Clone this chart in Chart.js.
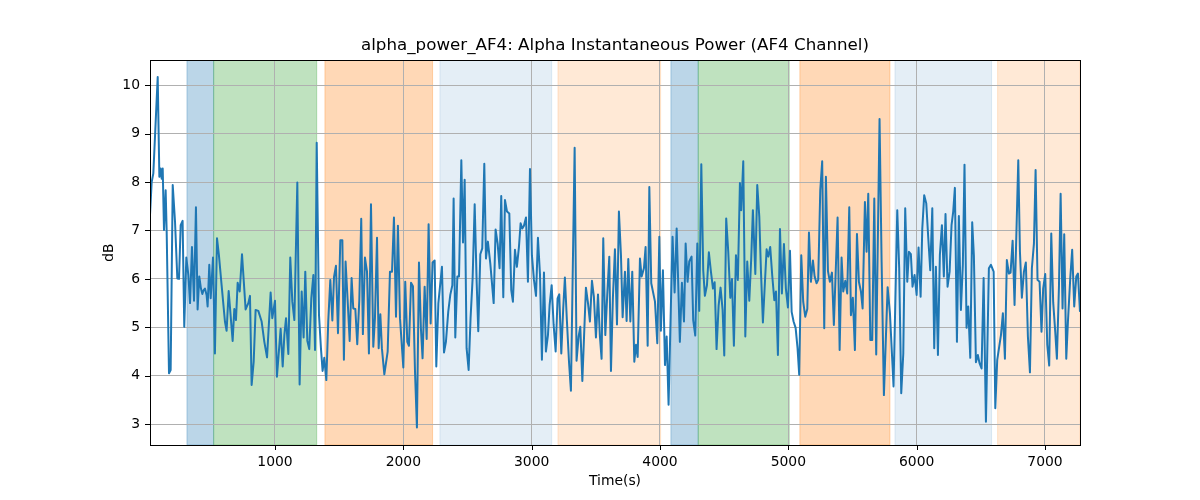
<!DOCTYPE html>
<html>
<head>
<meta charset="utf-8">
<script src="https://cdn.jsdelivr.net/npm/chart.js@4"></script>
<style>
  html, body { margin: 0; padding: 0; background: #fff; }
  #wrap { width: 1200px; height: 500px; }
</style>
</head>
<body>
<div id="wrap"><canvas id="powerChart" width="1200" height="500"></canvas></div>
<script>
// time (s) and alpha power (dB)
const times = [
  26, 39, 52, 86, 99, 109, 117, 125, 135, 148, 156, 174, 187, 203, 221, 239, 252, 265, 280, 293,
  309, 325, 338, 353, 369, 384, 397, 410, 423, 434, 444, 454, 467, 475, 488, 499, 517, 532, 548, 563,
  584, 610, 623, 639, 670, 683, 696, 709, 725, 743, 771, 792, 805, 818, 834, 849, 870, 896, 917, 938,
  966, 979, 1000, 1015, 1044, 1060, 1073, 1086, 1104, 1119, 1135, 1151, 1174, 1192, 1208, 1223, 1236, 1252, 1267, 1283,
  1299, 1312, 1325, 1343, 1358, 1371, 1384, 1400, 1415, 1431, 1447, 1460, 1475, 1491, 1509, 1525, 1537, 1550, 1566, 1582,
  1597, 1610, 1626, 1641, 1657, 1672, 1685, 1701, 1717, 1732, 1748, 1766, 1779, 1795, 1808, 1821, 1833, 1852,
  1878, 1896, 1912, 1927, 1943, 1958, 1974, 2000, 2015, 2031, 2044, 2060, 2075, 2091, 2106, 2122, 2137, 2150, 2166, 2182,
  2197, 2213, 2228, 2244, 2257, 2273, 2301, 2317, 2332, 2350, 2366, 2382, 2392, 2405, 2421, 2434, 2452, 2465, 2478, 2493,
  2509, 2524, 2540, 2556, 2571, 2584, 2600, 2615, 2631, 2644, 2659, 2678, 2704, 2719, 2735, 2750, 2763, 2779,
  2792, 2808, 2826, 2841, 2854, 2870, 2885, 2901, 2914, 2927, 2940, 2956, 2971, 2987, 3002, 3018, 3034, 3049, 3065, 3080,
  3096, 3111, 3127, 3140, 3156, 3171, 3187, 3202, 3215, 3231, 3246, 3259, 3275, 3291, 3306, 3335, 3350, 3366, 3379, 3395,
  3423, 3439, 3454, 3470, 3485, 3501, 3517, 3532, 3545, 3558, 3574, 3589, 3605, 3618, 3633, 3649, 3665, 3680, 3696, 3709,
  3727, 3740, 3753, 3769, 3784, 3800, 3813, 3826, 3844, 3857, 3875, 3888, 3904, 3917, 3932, 3961, 3979, 3995, 4007, 4023,
  4039, 4052, 4067, 4083, 4098, 4114, 4130, 4155, 4171, 4187, 4200, 4215, 4228, 4246, 4259, 4275, 4291, 4306, 4322, 4337,
  4350, 4366, 4381, 4397, 4413, 4426, 4441, 4457, 4472, 4488, 4501, 4516, 4532, 4548, 4561, 4576, 4592, 4607, 4623, 4633,
  4649, 4665, 4680, 4696,
  4711, 4724, 4743, 4758, 4774, 4787, 4802, 4818, 4831, 4844, 4859, 4875, 4891, 4904, 4919, 4935, 4950, 4966, 4981, 4997,
  5013, 5026, 5041, 5057, 5072, 5085, 5101, 5116, 5132, 5148, 5161, 5176, 5192, 5205, 5220, 5233, 5249, 5264, 5280, 5293,
  5309, 5324, 5340, 5355, 5384, 5400, 5415, 5428, 5444, 5459, 5475, 5488, 5503, 5519, 5535, 5550, 5566, 5579,
  5597, 5610, 5623, 5639, 5654, 5670, 5685, 5711, 5727, 5745, 5774, 5792, 5820, 5849, 5864, 5880, 5896, 5911, 5927, 5940,
  5955, 5968, 5984, 6000, 6015, 6031, 6044, 6059, 6075, 6090, 6106, 6122, 6137, 6150, 6166, 6181, 6197, 6212, 6225, 6241,
  6257, 6272, 6285, 6298, 6314, 6329, 6345, 6360, 6373, 6389, 6402, 6418, 6433, 6446, 6462, 6477, 6490, 6506, 6522,
  6540, 6563, 6579, 6600, 6613, 6628, 6657, 6672, 6688, 6703, 6719, 6732, 6748, 6763, 6792, 6805, 6820, 6836, 6851, 6867,
  6883, 6898, 6914, 6927, 6942, 6958, 6973, 6986, 7002, 7018, 7033, 7049, 7064, 7080, 7093, 7109, 7122, 7137, 7150, 7166,
  7179, 7197, 7212, 7228, 7244, 7257, 7273
];
const alphaDb = [
  7.32, 8.00, 8.18, 10.17, 8.11, 8.28, 8.07, 8.28, 7.01, 7.83, 6.97, 4.05, 4.12, 7.94, 7.18, 6.01, 6.00, 7.11, 7.20, 5.01,
  6.44, 6.08, 5.50, 6.66, 5.55, 7.48, 5.37, 6.05, 5.80, 5.69, 5.77, 5.80, 5.67, 5.43, 6.29, 5.60, 6.44, 4.46, 6.84, 6.49,
  5.87, 5.12, 4.93, 5.75, 4.72, 5.38, 5.15, 5.92, 5.74, 6.51, 5.37, 5.50, 5.65, 3.81, 4.29, 5.36, 5.34, 5.12, 4.70, 4.38,
  5.72, 5.19, 5.55, 3.98, 4.97, 4.19, 4.84, 5.19, 4.45, 6.44, 5.53, 5.15, 7.99, 3.82, 5.74, 4.79, 6.15, 4.72, 4.55, 5.60,
  6.08, 4.53, 8.81, 5.25, 4.57, 4.10, 4.37, 3.91, 5.12, 5.98, 5.14, 6.04, 6.27, 4.88, 6.80, 6.80, 4.33, 6.36, 5.56, 4.72,
  6.02, 5.39, 5.38, 4.65, 5.56, 7.24, 4.86, 6.44, 6.15, 4.46, 7.54, 4.60, 5.19, 6.85, 4.57, 5.27, 4.57, 4.03,
  4.50, 6.15, 6.15, 7.27, 5.22, 7.10, 5.19, 4.17, 5.94, 4.70, 4.62, 5.92, 5.85, 4.09, 2.93, 6.34, 4.98, 4.36, 5.84, 4.76,
  7.13, 5.08, 6.34, 6.38, 4.19, 5.50, 6.25, 4.48, 4.70, 5.32, 5.67, 5.87, 7.66, 4.79, 6.05, 6.05, 8.45, 6.75, 8.05, 4.57,
  4.12, 5.19, 6.01, 7.54, 5.98, 4.92, 6.51, 6.63, 8.38, 6.42, 6.77, 6.31, 5.50, 7.02, 6.73, 6.22, 7.71, 5.62,
  7.63, 7.39, 7.35, 5.77, 5.53, 6.60, 6.25, 6.66, 7.15, 7.04, 7.10, 7.27, 5.94, 8.27, 6.49, 5.98, 5.65, 6.85, 6.09, 4.33,
  6.13, 4.50, 4.84, 5.46, 5.87, 5.06, 4.50, 5.60, 5.68, 4.46, 5.39, 6.03, 5.12, 4.29, 3.69, 8.71, 4.31, 4.81, 5.01, 3.89,
  5.82, 5.50, 5.12, 5.96, 5.63, 4.79, 5.68, 4.81, 4.35, 6.84, 4.84, 5.67, 6.46, 4.10, 5.60, 6.61, 5.06, 7.39, 6.49, 5.21,
  6.15, 5.13, 6.41, 5.12, 6.15, 4.29, 4.64, 4.39, 6.42, 6.05, 6.22, 6.66, 4.62, 7.90, 5.91, 5.53, 4.67, 6.87, 4.93, 6.18,
  4.22, 4.81, 3.40, 5.22, 6.87, 5.72, 7.04, 4.70, 5.92, 5.12, 6.73, 5.94, 6.36, 6.46, 5.15, 4.83, 6.73, 5.34, 8.37, 6.18,
  5.65, 5.87, 6.55, 6.15, 5.80, 5.93, 4.55, 5.45, 5.82, 5.36, 4.42, 7.25, 6.56, 5.61, 6.00, 4.62, 6.49, 5.98, 7.98, 7.42,
  8.43, 4.81, 6.36, 5.55,
  6.42, 7.42, 6.10, 7.94, 7.28, 6.15, 5.10, 5.94, 6.61, 6.46, 6.66, 6.06, 5.56, 5.74, 4.43, 7.03, 5.70, 6.72, 5.80, 5.41,
  6.58, 5.32, 5.12, 4.99, 4.57, 4.02, 6.49, 5.53, 5.22, 5.38, 6.96, 5.94, 6.38, 6.05, 5.91, 5.98, 7.83, 8.43, 4.98, 8.11,
  6.16, 5.94, 6.13, 5.05, 7.27, 4.53, 6.44, 5.74, 5.96, 5.70, 7.48, 5.25, 5.61, 4.53, 6.93, 5.94, 5.74, 5.39,
  7.59, 6.56, 7.76, 4.74, 4.74, 7.66, 4.44, 9.30, 6.36, 3.60, 5.83, 5.29, 3.78, 7.42, 6.22, 3.64, 4.46, 7.46, 5.94, 6.56,
  6.51, 5.84, 6.08, 5.67, 6.65, 5.63, 7.04, 7.73, 7.56, 6.87, 6.18, 7.46, 4.57, 6.25, 4.43, 6.49, 7.11, 6.05, 7.34, 5.84,
  6.15, 7.11, 7.39, 7.88, 4.70, 7.30, 5.36, 6.29, 8.36, 4.99, 5.43, 4.37, 7.17, 6.49, 4.28, 4.43, 4.26, 4.15, 6.02,
  3.05, 6.22, 6.29, 6.15, 3.33, 4.33, 4.84, 5.29, 4.35, 6.39, 6.11, 6.13, 6.79, 5.46, 8.45, 6.56, 5.61, 6.15, 6.34, 4.81,
  4.07, 6.22, 6.73, 8.25, 5.98, 5.94, 4.91, 5.80, 6.10, 4.64, 4.21, 6.94, 5.52, 4.91, 4.35, 5.84, 7.76, 5.39, 6.92, 4.35,
  5.12, 6.01, 6.60, 5.43, 6.05, 6.11, 5.32
];

// shaded segments (start, end, kind)
const spanStart = [314, 522, 1389, 2285, 3205, 4085, 4298, 5090, 5831, 6631];
const spanEnd   = [522, 1325, 2228, 3156, 4005, 4298, 5007, 5792, 6584, 7273];
const spanKind  = ['blue', 'green', 'orange', 'paleBlue', 'paleOrange', 'blue', 'green', 'orange', 'paleBlue', 'paleOrange'];

const xTicks = [1000, 2000, 3000, 4000, 5000, 6000, 7000];
const yTicks = [3, 4, 5, 6, 7, 8, 9, 10];

const spanColors = {
    blue: 'rgba(31,119,180,0.3)',
    green: 'rgba(44,160,44,0.3)',
    orange: 'rgba(255,127,14,0.3)',
    paleBlue: 'rgba(31,119,180,0.12)',
    paleOrange: 'rgba(255,127,14,0.17)'
};

const FONT = 'DejaVu Sans';
Chart.defaults.font.family = FONT;
Chart.defaults.color = '#000';

const spanPlugin = {
    id: 'spans',
    beforeDraw(chart) {
        const {ctx, chartArea, scales} = chart;
        ctx.save();
        ctx.fillStyle = '#fff';
        ctx.fillRect(0, 0, chart.width, chart.height);
        ctx.beginPath();
        ctx.rect(chartArea.left, chartArea.top, chartArea.right - chartArea.left, chartArea.bottom - chartArea.top);
        ctx.clip();
        spanStart.forEach((s, i) => {
            const x0 = scales.x.getPixelForValue(s);
            const x1 = scales.x.getPixelForValue(spanEnd[i]);
            ctx.fillStyle = spanColors[spanKind[i]];
            ctx.strokeStyle = spanColors[spanKind[i]];
            ctx.lineWidth = 1;
            ctx.fillRect(x0, chartArea.top, x1 - x0, chartArea.bottom - chartArea.top);
            ctx.strokeRect(x0, chartArea.top, x1 - x0, chartArea.bottom - chartArea.top);
        });
        ctx.restore();
    },
    afterDraw(chart) {
        const {ctx, chartArea, scales} = chart;
        ctx.save();
        ctx.strokeStyle = '#000';
        ctx.lineWidth = 1;
        ctx.strokeRect(Math.round(chartArea.left) + 0.5, Math.round(chartArea.top) + 0.5,
            Math.round(chartArea.right - chartArea.left), Math.round(chartArea.bottom - chartArea.top));
        // black tick marks, matplotlib style
        ctx.beginPath();
        xTicks.forEach(v => {
            const x = Math.round(scales.x.getPixelForValue(v)) + 0.5;
            ctx.moveTo(x, chartArea.bottom);
            ctx.lineTo(x, chartArea.bottom + 5);
        });
        yTicks.forEach(v => {
            const y = Math.round(scales.y.getPixelForValue(v)) + 0.5;
            ctx.moveTo(chartArea.left, y);
            ctx.lineTo(chartArea.left - 5, y);
        });
        ctx.stroke();
        ctx.restore();
    }
};

const ctx = document.getElementById('powerChart').getContext('2d');
const chart = new Chart(ctx, {
    type: 'line',
    data: {
        datasets: [{
            label: 'alpha_power_AF4',
            data: times.map((t, i) => ({x: t, y: alphaDb[i]})),
            borderColor: '#1f77b4',
            borderWidth: 2,
            borderJoinStyle: 'round',
            pointRadius: 0,
            tension: 0,
            fill: false
        }]
    },
    options: {
        responsive: false,
        animation: false,
        devicePixelRatio: 1,
        layout: {
            padding: {left: 0, right: 120, top: 0, bottom: 0}
        },
        scales: {
            x: {
                type: 'linear',
                min: 26,
                max: 7273,
                afterBuildTicks: s => { s.ticks = xTicks.map(v => ({value: v})); },
                afterFit: s => { s.height = 55; },
                grid: {color: '#b0b0b0', lineWidth: 1, drawTicks: false},
                border: {display: false},
                ticks: {
                    padding: 9,
                    maxRotation: 0,
                    autoSkip: false,
                    font: {size: 13.9},
                    callback: v => String(v)
                },
                title: {
                    display: true,
                    text: 'Time(s)',
                    font: {size: 13.9},
                    padding: {top: 0, bottom: 10}
                }
            },
            y: {
                type: 'linear',
                min: 2.57,
                max: 10.52,
                afterBuildTicks: s => { s.ticks = yTicks.map(v => ({value: v})); },
                afterFit: s => { s.width = 150; },
                grid: {color: '#b0b0b0', lineWidth: 1, drawTicks: false},
                border: {display: false},
                ticks: {
                    padding: 10,
                    font: {size: 13.9},
                    callback: v => String(v)
                },
                title: {
                    display: true,
                    text: 'dB',
                    font: {size: 13.9},
                    padding: {top: 101, bottom: 0}
                }
            }
        },
        plugins: {
            legend: {display: false},
            tooltip: {enabled: false},
            title: {
                display: true,
                text: 'alpha_power_AF4: Alpha Instantaneous Power (AF4 Channel)',
                fullSize: false,
                font: {size: 16.7, weight: 'normal'},
                padding: {top: 36, bottom: 4}
            }
        }
    },
    plugins: [spanPlugin]
});
</script>
</body>
</html>
